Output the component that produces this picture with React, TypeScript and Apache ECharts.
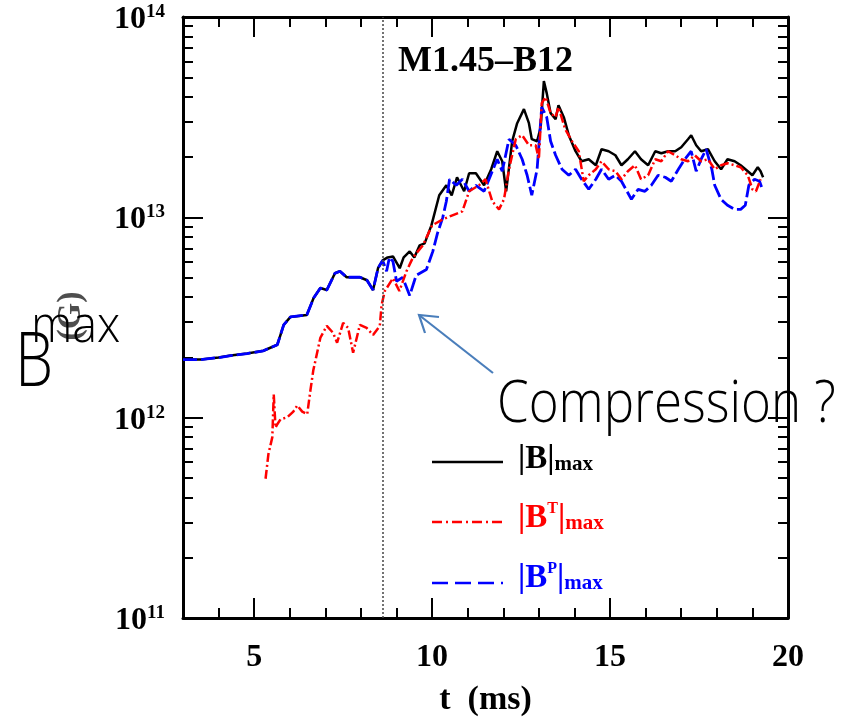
import React, { useEffect, useRef } from 'react';
import * as echarts from 'echarts';

// ---------- data (t in ms, log10 of |B| in Gauss) ----------
const tTotal = [3.0, 3.5, 4.0, 4.34, 4.8, 5.26, 5.65, 5.83, 6.02, 6.48, 6.67, 6.86, 7.04, 7.27, 7.41, 7.6, 7.97, 8.17, 8.34, 8.48, 8.61,
  8.75, 8.9, 9.09, 9.2, 9.37, 9.5, 9.65, 9.79, 9.98, 10.2, 10.4, 10.55, 10.7, 10.9, 11.04, 11.23, 11.46, 11.66, 11.83, 11.97, 12.08,
  12.25, 12.39, 12.58, 12.72, 12.8, 12.95, 13.05, 13.14, 13.22, 13.33, 13.47, 13.55, 13.7, 13.84, 14.03, 14.2, 14.4, 14.6, 14.76,
  14.96, 15.15, 15.32, 15.5, 15.7, 15.87, 16.07, 16.27, 16.44, 16.63, 16.83, 17.0, 17.19, 17.28, 17.42, 17.56, 17.75, 17.94, 18.12,
  18.3, 18.5, 18.67, 18.87, 19.0, 19.15, 19.23, 19.3];
const logBTotal = [12.29, 12.29, 12.30, 12.31, 12.32, 12.334, 12.364, 12.463, 12.503, 12.513, 12.597, 12.647, 12.637, 12.721, 12.731,
  12.701, 12.701, 12.686, 12.637, 12.746, 12.785,
  12.80, 12.805, 12.746, 12.80, 12.83, 12.80, 12.86, 12.87, 12.96, 13.11, 13.16, 13.11, 13.20, 13.13, 13.22, 13.22, 13.16, 13.24,
  13.33, 13.28, 13.13, 13.38, 13.47, 13.54, 13.47, 13.39, 13.38, 13.45, 13.68, 13.62, 13.52, 13.49, 13.56, 13.50, 13.41, 13.33,
  13.28, 13.29, 13.26, 13.34, 13.33, 13.31, 13.26, 13.29, 13.33, 13.29, 13.26, 13.33, 13.32, 13.33, 13.33, 13.35, 13.39, 13.41,
  13.36, 13.33, 13.34, 13.28, 13.24, 13.29, 13.28, 13.26, 13.23, 13.21, 13.25, 13.23, 13.20];

const tToroidal = [5.32, 5.4, 5.51, 5.55, 5.6, 5.65, 5.74, 5.93, 6.1, 6.21, 6.35, 6.49, 6.58, 6.66, 6.86, 7.04, 7.22, 7.33, 7.5, 7.64,
  7.78, 7.97, 8.16, 8.34, 8.53, 8.58, 8.67, 8.9, 9.08, 9.28, 9.45, 9.6, 9.74, 10.0, 10.3, 10.57, 10.85, 11.04, 11.32, 11.5, 11.69,
  11.88, 12.02, 12.16, 12.35, 12.53, 12.72, 12.91, 13.0, 13.08, 13.19, 13.33, 13.47, 13.55, 13.74, 13.93, 14.12, 14.26, 14.4, 14.6,
  14.76, 14.96, 15.15, 15.32, 15.5, 15.7, 15.87, 16.07, 16.27, 16.44, 16.63, 16.83, 17.0, 17.19, 17.38, 17.56, 17.75, 17.94, 18.12,
  18.3, 18.5, 18.67, 18.87, 19.0, 19.1, 19.23];
const logBToroidal = [11.695, 11.818, 11.903, 12.116, 11.95, 11.967, 11.992, 12.002, 12.03, 12.061, 12.03, 12.017, 12.136, 12.235,
  12.399, 12.458, 12.423, 12.374, 12.473, 12.448, 12.324, 12.463, 12.448, 12.413, 12.458, 12.562, 12.632, 12.696, 12.632, 12.731,
  12.795, 12.83, 12.86, 12.96, 12.99, 13.01, 13.03, 13.13, 13.16, 13.19, 13.08, 13.04, 13.09, 13.24, 13.39, 13.41, 13.36, 13.36,
  13.29, 13.57, 13.60, 13.52, 13.50, 13.55, 13.44, 13.38, 13.33, 13.18, 13.21, 13.24, 13.28, 13.24, 13.23, 13.19, 13.23, 13.26,
  13.19, 13.21, 13.29, 13.28, 13.33, 13.31, 13.29, 13.28, 13.31, 13.28, 13.29, 13.24, 13.26, 13.27, 13.26, 13.25, 13.21, 13.14,
  13.13, 13.19];

const tPoloidal = [3.0, 3.5, 4.0, 4.34, 4.8, 5.26, 5.65, 5.83, 6.02, 6.48, 6.67, 6.86, 7.04, 7.27, 7.41, 7.6, 7.97, 8.17, 8.34, 8.48,
  8.61, 8.72, 8.8, 8.9, 9.0, 9.17, 9.37, 9.55, 9.84, 10.02, 10.15, 10.3, 10.4, 10.49, 10.68, 10.85, 11.04, 11.23, 11.46, 11.69, 11.83,
  11.97, 12.16, 12.35, 12.53, 12.67, 12.8, 12.95, 13.08, 13.22, 13.33, 13.47, 13.65, 13.84, 14.03, 14.2, 14.4, 14.6, 14.76, 14.96,
  15.15, 15.32, 15.6, 15.79, 15.98, 16.16, 16.35, 16.55, 16.72, 16.92, 17.1, 17.28, 17.42, 17.56, 17.7, 17.86, 17.94, 18.12, 18.3,
  18.5, 18.67, 18.8, 18.9, 19.06, 19.2, 19.28];
const logBPoloidal = [12.29, 12.29, 12.30, 12.31, 12.32, 12.334, 12.364, 12.463, 12.503, 12.513, 12.597, 12.647, 12.637, 12.721,
  12.731, 12.701, 12.701, 12.686, 12.637, 12.746, 12.785, 12.731, 12.80, 12.78, 12.681, 12.70, 12.61, 12.71, 12.74, 12.83, 12.92,
  13.00, 13.08, 13.19, 13.16, 13.19, 13.13, 13.16, 13.13, 13.23, 13.29, 13.23, 13.39, 13.36, 13.29, 13.21, 13.11, 13.24, 13.55,
  13.50, 13.38, 13.31, 13.24, 13.21, 13.24, 13.19, 13.14, 13.19, 13.24, 13.19, 13.21, 13.18, 13.09, 13.14, 13.13, 13.16, 13.21,
  13.20, 13.18, 13.24, 13.29, 13.33, 13.23, 13.29, 13.34, 13.24, 13.16, 13.09, 13.06, 13.04, 13.04, 13.06, 13.16, 13.19, 13.18,
  13.14];

const dividerT = 8.6;
const xMajorTicks = [5, 10, 15, 20];
const xMinorTicks = [4, 6, 7, 8, 9, 11, 12, 13, 14, 16, 17, 18, 19];
const yDecades = [11, 12, 13, 14];
const minorFactors = [2, 3, 4, 5, 6, 7, 8, 9];
const titleText = 'M1.45–B12';

const SERIF = '"Liberation Serif", "DejaVu Serif", serif';
const LIGHT = '"Open Sans", "Noto Sans", sans-serif';

export default function App() {
  const ref = useRef<HTMLDivElement>(null);
  useEffect(() => {
    document.body.style.margin = '0';
    const chart = echarts.init(ref.current!, null, { renderer: 'svg' });
    const yMinor: number[] = [];
    yDecades.slice(0, 3).forEach((d) => minorFactors.forEach((f) => yMinor.push(d + Math.log10(f))));

    const frame = { show: true, onZero: false, lineStyle: { color: '#000', width: 3 } };
    const xBase = { type: 'value', min: 3, max: 20, splitLine: { show: false } };
    const yBase = { type: 'value', min: 11, max: 14, splitLine: { show: false } };
    const tick = (vals: number[], len: number) => ({
      show: true, inside: true, length: len, customValues: vals, lineStyle: { color: '#000', width: 2 },
    });
    const legendRich = (color: string) => ({
      b: { fontSize: 33, fontWeight: 'bold', fontFamily: SERIF, fill: color },
      p: { fontSize: 16, fontWeight: 'bold', fontFamily: SERIF, fill: color, verticalAlign: 'top' },
      s: { fontSize: 21, fontWeight: 'bold', fontFamily: SERIF, fill: color, verticalAlign: 'bottom' },
    });

    const option: any = {
      animation: false,
      grid: { left: 183, top: 17, right: 56, bottom: 96 },
      xAxis: [
        {
          ...xBase, position: 'bottom', axisLine: frame, axisTick: tick(xMajorTicks, 20),
          axisLabel: { show: true, customValues: xMajorTicks, margin: 21, fontSize: 32, fontWeight: 'bold', fontFamily: SERIF, color: '#000' },
          name: 't  (ms)', nameLocation: 'middle', nameGap: 62,
          nameTextStyle: { fontSize: 34, fontWeight: 'bold', fontFamily: SERIF, color: '#000' },
        },
        { ...xBase, position: 'bottom', axisLine: { show: false }, axisTick: tick(xMinorTicks, 10), axisLabel: { show: false } },
        { ...xBase, position: 'top', axisLine: frame, axisTick: tick(xMajorTicks, 20), axisLabel: { show: false } },
        { ...xBase, position: 'top', axisLine: { show: false }, axisTick: tick(xMinorTicks, 10), axisLabel: { show: false } },
      ],
      yAxis: [
        {
          ...yBase, position: 'left', axisLine: frame, axisTick: tick(yDecades, 20),
          axisLabel: {
            show: true, customValues: yDecades, margin: 18,
            formatter: (v: number) => `{b|10}{s|${Math.round(v)}}`,
            rich: {
              b: { fontSize: 32, fontWeight: 'bold', fontFamily: SERIF, color: '#000' },
              s: { fontSize: 19, fontWeight: 'bold', fontFamily: SERIF, color: '#000', verticalAlign: 'top' },
            },
          },
        },
        { ...yBase, position: 'left', axisLine: { show: false }, axisTick: tick(yMinor, 10), axisLabel: { show: false } },
        { ...yBase, position: 'right', axisLine: frame, axisTick: tick(yDecades, 20), axisLabel: { show: false } },
        { ...yBase, position: 'right', axisLine: { show: false }, axisTick: tick(yMinor, 10), axisLabel: { show: false } },
      ],
      series: [
        {
          type: 'line', xAxisIndex: 0, yAxisIndex: 0, showSymbol: false, symbol: 'none',
          data: tTotal.map((t, i) => [t, logBTotal[i]]),
          lineStyle: { color: '#000', width: 2.5 },
          markLine: {
            silent: true, symbol: 'none', label: { show: false },
            lineStyle: { color: '#444', width: 1.5, type: [2, 2] },
            data: [{ xAxis: dividerT }],
          },
        },
        {
          type: 'line', xAxisIndex: 0, yAxisIndex: 0, showSymbol: false, symbol: 'none',
          data: tPoloidal.map((t, i) => [t, logBPoloidal[i]]),
          lineStyle: { color: '#0000ff', width: 2.8, type: [14, 4] },
        },
        {
          type: 'line', xAxisIndex: 0, yAxisIndex: 0, showSymbol: false, symbol: 'none',
          data: tToroidal.map((t, i) => [t, logBToroidal[i]]),
          lineStyle: { color: '#ff0000', width: 2.5, type: [9, 3, 2, 3] },
        },
      ],
      graphic: [
        { type: 'text', x: 398, y: 59, style: { text: titleText, fontSize: 36, fontWeight: 'bold', fontFamily: SERIF, fill: '#000', verticalAlign: 'middle' } },
        // legend
        { type: 'line', shape: { x1: 432, y1: 462, x2: 503, y2: 462 }, style: { stroke: '#000', lineWidth: 2.5 } },
        { type: 'line', shape: { x1: 432, y1: 522, x2: 503, y2: 522 }, style: { stroke: '#ff0000', lineWidth: 2.5, lineDash: [10, 4, 2, 4] } },
        { type: 'line', shape: { x1: 432, y1: 583, x2: 503, y2: 583 }, style: { stroke: '#0000ff', lineWidth: 2.5, lineDash: [16, 7] } },
        { type: 'text', x: 518, y: 457, style: { text: '{b||B|}{s|max}', verticalAlign: 'middle', rich: legendRich('#000') } },
        { type: 'text', x: 518, y: 516, style: { text: '{b||B}{p|T}{b||}{s|max}', verticalAlign: 'middle', rich: legendRich('#ff0000') } },
        { type: 'text', x: 518, y: 576, style: { text: '{b||B}{p|P}{b||}{s|max}', verticalAlign: 'middle', rich: legendRich('#0000ff') } },
        // original rotated unit label, partly visible
        { type: 'text', x: 68, y: 316, rotation: Math.PI / 2, style: { text: '(G)', fontSize: 34, fontWeight: 'bold', fontFamily: SERIF, fill: '#222', align: 'center', verticalAlign: 'middle', opacity: 0.8 } },
        // overlaid annotation label
        { type: 'text', x: 15, y: 356, scaleX: 0.8, style: { text: 'B', fontSize: 76, fontWeight: 300, fontFamily: LIGHT, fill: '#000', verticalAlign: 'middle' } },
        { type: 'text', x: 31, y: 322, scaleX: 0.9, style: { text: 'max', fontSize: 52, fontWeight: 300, fontFamily: LIGHT, fill: '#000', verticalAlign: 'middle' } },
        // arrow
        { type: 'line', shape: { x1: 493, y1: 373, x2: 419, y2: 315 }, style: { stroke: '#4A7EBB', lineWidth: 2.2 } },
        { type: 'polyline', shape: { points: [[439, 317], [419, 315], [425, 333]] }, style: { stroke: '#4A7EBB', lineWidth: 2.2, fill: null } },
        { type: 'text', x: 497, y: 400, scaleX: 0.88, style: { text: 'Compression ?', fontSize: 58, fontWeight: 300, fontFamily: LIGHT, fill: '#000', verticalAlign: 'middle' } },
      ],
    };
    chart.setOption(option);
    return () => chart.dispose();
  }, []);
  return <div ref={ref} style={{ position: 'fixed', left: 0, top: 0, width: 844, height: 719 }} />;
}
